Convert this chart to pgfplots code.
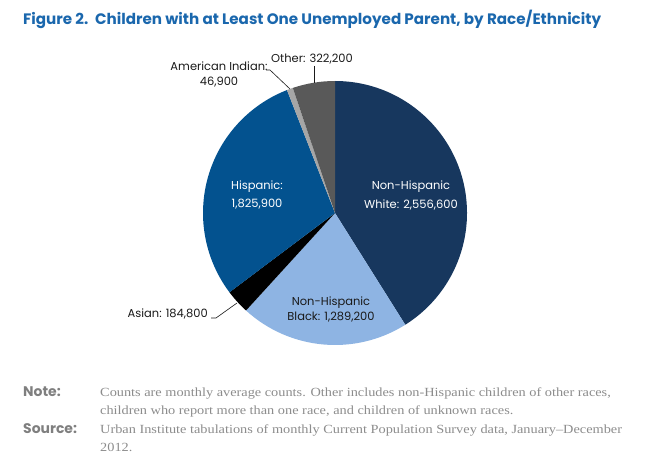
\documentclass[border=0pt]{standalone}
\usepackage{pgfplots}
\usepackage{pgfplotstable}
\pgfplotsset{compat=1.18}
\usepackage{fontspec}
\setmainfont{Liberation Serif}[FakeStretch=1.15]
\newfontfamily\futura{Poppins}
\definecolor{cWhite}{HTML}{17375E}
\definecolor{cBlack}{HTML}{8EB4E3}
\definecolor{cAsian}{HTML}{000000}
\definecolor{cHisp}{HTML}{03528F}
\definecolor{cAmInd}{HTML}{A6A6A6}
\definecolor{cOther}{HTML}{595959}
\definecolor{titleblue}{HTML}{1A67AD}
\definecolor{notegray}{HTML}{7F7F7F}
\definecolor{textgray}{HTML}{8C8C8C}
\definecolor{labeltext}{HTML}{1A1A1A}

\pgfplotstableread[col sep=comma]{
group,value
White,2556600
Black,1289200
Asian,184800
Hispanic,1825900
AmInd,46900
Other,322200
}\pietable

% cumulative angles, clockwise from 12 o'clock
\begingroup
\pgfkeys{/pgf/fpu=true,/pgf/fpu/output format=fixed}
\gdef\pietotal{0}
\pgfplotstableforeachcolumnelement{value}\of\pietable\as\v{%
  \pgfmathparse{\pietotal+\v}\xdef\pietotal{\pgfmathresult}}
\expandafter\xdef\csname ang0\endcsname{90}
\pgfplotstableforeachcolumnelement{value}\of\pietable\as\v{%
  \pgfmathparse{\csname ang\pgfplotstablerow\endcsname-360*\v/\pietotal}%
  \expandafter\xdef\csname ang\the\numexpr\pgfplotstablerow+1\relax\endcsname{\pgfmathresult}}
\endgroup
\expandafter\let\expandafter\angA\csname ang0\endcsname
\expandafter\let\expandafter\angB\csname ang1\endcsname
\expandafter\let\expandafter\angC\csname ang2\endcsname
\expandafter\let\expandafter\angD\csname ang3\endcsname
\expandafter\let\expandafter\angE\csname ang4\endcsname
\expandafter\let\expandafter\angF\csname ang5\endcsname
\expandafter\let\expandafter\angG\csname ang6\endcsname

\newcommand\pieslice[3]{%
  \fill[#3] (axis cs:0,0) -- ++(#1:132bp) arc[start angle=#1,end angle=#2,radius=132bp] -- cycle;}

\begin{document}
\begin{tikzpicture}
\begin{scope}[x=1bp,y=-1bp]
\useasboundingbox (0,0) rectangle (667,460);
\end{scope}
\begin{axis}[at={(335bp,-213bp)},anchor=center,width=264bp,height=264bp,
  scale only axis,xmin=-1,xmax=1,ymin=-1,ymax=1,hide axis,clip=false]
\pieslice{\angA}{\angB}{cWhite}
\pieslice{\angB}{\angC}{cBlack}
\pieslice{\angC}{\angD}{cAsian}
\pieslice{\angD}{\angE}{cHisp}
\pieslice{\angE}{\angF}{cAmInd}
\pieslice{\angF}{\angG}{cOther}
\end{axis}
\begin{scope}[x=1bp,y=-1bp]
\node[anchor=base west,inner sep=0,text=titleblue,font=\futura\bfseries\fontsize{15.2}{17}\selectfont] at (23,25)
  {Figure 2.\hspace{0.45em}Children with at Least One Unemployed Parent, by Race/Ethnicity};
\tikzset{lab/.style={anchor=base,inner sep=0,font=\futura\fontsize{11.5}{13}\selectfont}}
\node[lab,text=white] at (411,190) {Non-Hispanic};
\node[lab,text=white] at (411,209) {White: 2,556,600};
\node[lab,text=white] at (257,190) {Hispanic:};
\node[lab,text=white] at (257,208) {1,825,900};
\node[lab,text=labeltext] at (331,306) {Non-Hispanic};
\node[lab,text=labeltext] at (331,321) {Black: 1,289,200};
\node[lab,text=labeltext,anchor=base east] at (208,318) {Asian: 184,800};
\node[lab,text=labeltext] at (219,71) {American Indian:};
\node[lab,text=labeltext] at (219,86) {46,900};
\node[lab,text=labeltext] at (312,63) {Other: 322,200};
\draw[labeltext,line width=0.6pt] (211,318) -- (216,318) -- (237,303);
\draw[labeltext,line width=0.6pt] (266,70) -- (270,70) -- (290,89);
\draw[labeltext,line width=0.6pt] (314,66) -- (314,83);
\tikzset{nlab/.style={anchor=base west,inner sep=0,text=notegray,font=\futura\bfseries\fontsize{14}{16}\selectfont},
  ntext/.style={anchor=base west,inner sep=0,text=textgray,font=\fontsize{12.5}{14}\selectfont}}
\node[nlab] at (23,396) {Note:};
\node[ntext] at (100,396) {Counts are monthly average counts. Other includes non-Hispanic children of other races,};
\node[ntext] at (100,414) {children who report more than one race, and children of unknown races.};
\node[nlab] at (23,433) {Source:};
\node[ntext] at (100,433) {Urban Institute tabulations of monthly Current Population Survey data, January--December};
\node[ntext] at (100,451) {2012.};
\end{scope}
\end{tikzpicture}
\end{document}
